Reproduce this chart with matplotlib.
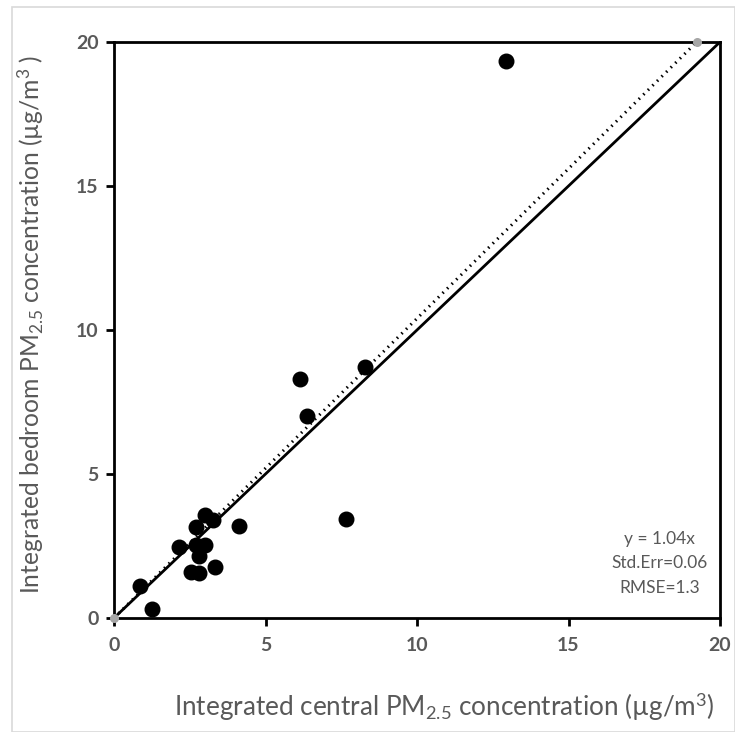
import numpy as np
import matplotlib
matplotlib.use("Agg")
import matplotlib.pyplot as plt
from matplotlib.patches import Rectangle

plt.rcParams['font.family'] = ['Lato', 'DejaVu Sans']
plt.rcParams['mathtext.fontset'] = 'custom'
plt.rcParams['mathtext.rm'] = 'Lato'
plt.rcParams['mathtext.it'] = 'Lato:italic'
plt.rcParams['mathtext.bf'] = 'Lato:bold'

# data
central = [0.86, 1.25, 2.16, 2.54, 2.82, 2.99, 3.27, 2.71, 2.72, 2.99,
           2.79, 3.32, 4.12, 7.65, 6.13, 8.27, 6.36, 12.95]
bedroom = [1.12, 0.31, 2.45, 1.61, 1.57, 3.57, 3.40, 3.15, 2.53, 2.53,
           2.15, 1.78, 3.20, 3.44, 8.29, 8.73, 7.01, 19.35]
slope = 1.04
stats_lines = ['y = 1.04x', 'Std.Err=0.06', 'RMSE=1.3']
ticks = [0, 5, 10, 15, 20]

grey = '#595959'
W, H = 735, 732

fig = plt.figure(figsize=(W / 100, H / 100), dpi=100)
fig.patches.append(Rectangle((12 / W, 0), 1 - 12 / W, 1 - 7 / H,
                             transform=fig.transFigure, fill=False,
                             edgecolor='#d9d9d9', linewidth=1.2))
ax = fig.add_axes([114 / W, 1 - 618 / H, 606 / W, 576 / H])

# 1:1 line
ax.plot([0, 20], [0, 20], color='black', lw=2, zorder=2)
# fitted line through origin
x_end = 20 / slope
ax.plot([0, x_end], [0, slope * x_end], color='black', lw=2.2,
        linestyle=(0, (0.5, 1.6)), zorder=2)
ax.scatter([0, x_end], [0, slope * x_end], s=30, color='#a6a6a6', zorder=3,
           clip_on=False)

ax.scatter(central, bedroom, s=110, color='black', zorder=4, clip_on=False)

ax.set_xlim(0, 20)
ax.set_ylim(0, 20)
ax.set_xticks(ticks)
ax.set_yticks(ticks)
for s in ax.spines.values():
    s.set_linewidth(2)
    s.set_color('black')
ax.tick_params(direction='out', length=6, width=2, colors='black',
               labelcolor=grey, labelsize=14, pad=5)
ax.tick_params(axis='x', pad=8)
for lab in ax.get_xticklabels() + ax.get_yticklabels():
    lab.set_fontweight('bold')

fig.text(444 / W, 1 - 707 / H,
         r'Integrated central PM$_{2.5}$ concentration (µg/m$^3$)',
         fontsize=18.8, color=grey, ha='center', va='center')
fig.text(31 / W, 1 - 324 / H,
         r'Integrated bedroom PM$_{2.5}$ concentration (µg/m$^3$ )',
         fontsize=17.7, color=grey, ha='center', va='center', rotation=90)

ax.text(18.0, 1.9, '\n'.join(stats_lines), ha='center', va='center',
        fontsize=12.5, color=grey, linespacing=1.65)

fig.savefig('out.png', dpi=100)
